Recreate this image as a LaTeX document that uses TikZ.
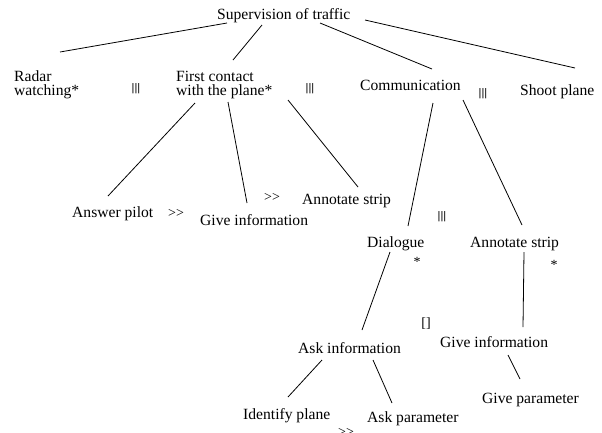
\documentclass[tikz,border=0pt]{standalone}
\usepackage{fontspec}
\setmainfont{Liberation Serif}[Ligatures=NoCommon]
\newfontfamily\barfont{Liberation Sans}
\begin{document}
\begin{tikzpicture}[x=1pt,y=-1pt,
  lbl/.style={inner sep=0pt, anchor=base west, font=\fontsize{15.6}{14}\selectfont, align=left},
  op/.style={inner sep=0pt, anchor=center, font=\fontsize{14}{14}\selectfont},
  bars/.style={inner sep=0pt, anchor=center, font=\barfont\fontsize{11}{12}\selectfont},
  edge/.style={line width=0.8pt}]
\useasboundingbox (0,0) rectangle (602,432);
% labels
\node[lbl] (sup) at (217,19) {Supervision of traffic};
\node[lbl] (radar) at (14,95) {Radar\\watching*};
\node[lbl] (first) at (176,95) {First contact\\with the plane*};
\node[lbl] (comm) at (360,90) {Communication};
\node[lbl] (shoot) at (520,95) {Shoot plane};
\node[lbl] (answer) at (72,217) {Answer pilot};
\node[lbl] (give1) at (200,225) {Give information};
\node[lbl] (annot1) at (302,204) {Annotate strip};
\node[lbl] (dial) at (367,247) {Dialogue};
\node[lbl] (annot2) at (470,247) {Annotate strip};
\node[lbl] (askinfo) at (298,353) {Ask information};
\node[lbl] (give2) at (440,347) {Give information};
\node[lbl] (giveparam) at (482,403) {Give parameter};
\node[lbl] (ident) at (243,419) {Identify plane};
\node[lbl] (askparam) at (367,422) {Ask parameter};
% operators
\node[bars] (o1) at (136,89) {|||};
\node[bars] (o2) at (310,89) {|||};
\node[bars] (o3) at (483,94) {|||};
\node[bars] (o4) at (442,217) {|||};
\node[op] (o5) at (176,213) {{>}{>}};
\node[op] (o6) at (272,197) {{>}{>}};
\node[op] (o7) at (346,432) {{>}{>}};
\node[op] (o8) at (417,262) {*};
\node[op] (o9) at (554,265) {*};
\node[op] (o10) at (426,324) {[]};
% connector ends
\coordinate (sup-a) at (227,23);  \coordinate (radar-a) at (60,52);
\coordinate (sup-b) at (262,25);  \coordinate (first-a) at (233,60);
\coordinate (sup-c) at (320,23);  \coordinate (comm-a) at (432,69);
\coordinate (sup-d) at (365,20);  \coordinate (shoot-a) at (575,68);
\coordinate (first-b) at (195,103); \coordinate (answer-a) at (108,196);
\coordinate (first-c) at (228,102); \coordinate (give1-a) at (247,203);
\coordinate (first-d) at (288,100); \coordinate (annot1-a) at (358,187);
\coordinate (comm-b) at (433,103); \coordinate (dial-a) at (408,226);
\coordinate (comm-c) at (463,100); \coordinate (annot2-a) at (522,225);
\coordinate (dial-b) at (390,252); \coordinate (askinfo-a) at (362,330);
\coordinate (annot2-b) at (524,252); \coordinate (give2-a) at (523,327);
\coordinate (askinfo-b) at (322,360); \coordinate (ident-a) at (288,397);
\coordinate (askinfo-c) at (373,360); \coordinate (askparam-a) at (392,403);
\coordinate (give2-b) at (508,355); \coordinate (giveparam-a) at (520,379);
% connectors
\draw[edge] (sup-a) -- (radar-a);
\draw[edge] (sup-b) -- (first-a);
\draw[edge] (sup-c) -- (comm-a);
\draw[edge] (sup-d) -- (shoot-a);
\draw[edge] (first-b) -- (answer-a);
\draw[edge] (first-c) -- (give1-a);
\draw[edge] (first-d) -- (annot1-a);
\draw[edge] (comm-b) -- (dial-a);
\draw[edge] (comm-c) -- (annot2-a);
\draw[edge] (dial-b) -- (askinfo-a);
\draw[edge] (annot2-b) -- (give2-a);
\draw[edge] (askinfo-b) -- (ident-a);
\draw[edge] (askinfo-c) -- (askparam-a);
\draw[edge] (give2-b) -- (giveparam-a);
\end{tikzpicture}
\end{document}
